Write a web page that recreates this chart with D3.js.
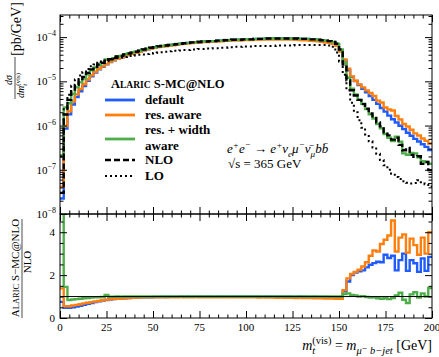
<!DOCTYPE html>
<html>
<head>
<meta charset="utf-8">
<title>m_t vis distribution</title>
<script src="https://cdnjs.cloudflare.com/ajax/libs/d3/7.8.5/d3.min.js"></script>
<style>
  body { margin: 0; background: #fff; }
  text { font-family: "Liberation Serif", "DejaVu Serif", serif; fill: #000; }
</style>
</head>
<body>
<div id="chart"></div>
<script>
    // 2 GeV bins from 0 to 200 GeV
    var binEdges = d3.range(0, 201, 2);

    // NLO and LO, in pb/GeV, one value per bin
    var nlo = [3.0e-8, 1.78e-6, 3.8e-6, 6.0e-6, 8.3e-6, 1.05e-5, 1.26e-5, 1.55e-5, 1.86e-5, 2.14e-5,
        2.40e-5, 2.63e-5, 2.88e-5, 3.16e-5, 3.39e-5, 3.63e-5, 3.80e-5, 4.07e-5, 4.27e-5, 4.47e-5,
        4.68e-5, 4.90e-5, 5.25e-5, 5.50e-5, 5.75e-5, 5.89e-5, 6.17e-5, 6.31e-5, 6.46e-5, 6.61e-5,
        6.76e-5, 6.92e-5, 7.08e-5, 7.24e-5, 7.41e-5, 7.59e-5, 7.59e-5, 7.76e-5, 7.94e-5, 7.94e-5,
        8.13e-5, 8.13e-5, 8.32e-5, 8.32e-5, 8.51e-5, 8.51e-5, 8.71e-5, 8.71e-5, 8.71e-5, 8.91e-5,
        8.91e-5, 8.91e-5, 9.12e-5, 9.12e-5, 9.12e-5, 9.33e-5, 9.33e-5, 9.33e-5, 9.33e-5, 9.33e-5,
        9.33e-5, 9.33e-5, 9.33e-5, 9.33e-5, 9.12e-5, 9.12e-5, 9.12e-5, 8.91e-5, 8.91e-5, 8.71e-5,
        8.51e-5, 8.32e-5, 8.13e-5, 7.76e-5, 7.08e-5, 5.25e-5, 2.40e-5, 1.05e-5, 6.3e-6, 4.8e-6,
        3.8e-6, 3.05e-6, 2.4e-6, 1.88e-6, 1.49e-6, 1.18e-6, 9.6e-7, 7.0e-7, 6.0e-7, 4.8e-7,
        5.3e-7, 3.66e-7, 2.77e-7, 3.13e-7, 2.17e-7, 1.96e-7, 2.02e-7, 1.36e-7, 1.5e-7, 9.8e-8];

    var lo = [2.0e-7, 2.5e-6, 5.0e-6, 7.9e-6, 1.10e-5, 1.35e-5, 1.62e-5, 1.90e-5, 2.19e-5, 2.40e-5,
        2.63e-5, 2.82e-5, 2.95e-5, 3.09e-5, 3.24e-5, 3.39e-5, 3.47e-5, 3.55e-5, 3.72e-5, 3.80e-5,
        3.89e-5, 3.98e-5, 4.07e-5, 4.17e-5, 4.27e-5, 4.37e-5, 4.47e-5, 4.57e-5, 4.68e-5, 4.79e-5,
        4.90e-5, 4.90e-5, 5.01e-5, 5.13e-5, 5.13e-5, 5.25e-5, 5.25e-5, 5.37e-5, 5.37e-5, 5.50e-5,
        5.50e-5, 5.62e-5, 5.62e-5, 5.75e-5, 5.75e-5, 5.89e-5, 5.89e-5, 6.03e-5, 6.03e-5, 6.17e-5,
        6.17e-5, 6.17e-5, 6.31e-5, 6.31e-5, 6.31e-5, 6.31e-5, 6.31e-5, 6.31e-5, 6.46e-5, 6.46e-5,
        6.46e-5, 6.46e-5, 6.46e-5, 6.61e-5, 6.61e-5, 6.61e-5, 6.61e-5, 6.61e-5, 6.61e-5, 6.61e-5,
        6.61e-5, 6.61e-5, 6.46e-5, 6.03e-5, 4.47e-5, 2.82e-5, 1.41e-5, 6.3e-6, 3.3e-6, 2.0e-6,
        1.32e-6, 8.9e-7, 6.3e-7, 4.4e-7, 3.2e-7, 2.3e-7, 1.66e-7, 1.26e-7, 1.0e-7, 8.1e-8,
        6.9e-8, 6.2e-8, 5.5e-8, 5.1e-8, 4.9e-8, 5.0e-8, 5.8e-8, 5.2e-8, 4.7e-8, 4.2e-8];

    // ALARIC S-MC@NLO / NLO
    var ratioDefault = [0.75, 0.48, 0.47, 0.50, 0.53, 0.57, 0.62, 0.66, 0.70, 0.74,
        0.78, 0.81, 0.84, 0.86, 0.88, 0.90, 0.91, 0.92, 0.93, 0.94,
        0.95, 0.96, 0.96, 0.97, 0.97, 0.98, 0.98, 0.99, 0.98, 0.99,
        0.99, 0.99, 1.00, 0.99, 1.00, 0.99, 1.00, 1.00, 0.99, 1.00,
        1.00, 0.99, 1.00, 1.00, 1.00, 0.99, 1.00, 1.00, 1.00, 1.00,
        0.99, 1.00, 1.00, 1.00, 0.99, 1.00, 1.00, 0.99, 1.00, 1.00,
        0.99, 1.00, 0.99, 0.99, 1.00, 0.99, 0.99, 0.98, 0.99, 0.98,
        0.98, 0.98, 0.97, 0.97, 0.96, 0.95, 1.25, 1.70, 2.00, 2.12,
        2.18, 2.22, 2.36, 2.48, 2.56, 2.62, 2.60, 2.95, 2.80, 2.90,
        2.22, 2.70, 3.00, 2.20, 2.70, 2.55, 2.15, 2.78, 2.20, 2.85];

    var ratioResAware = [1.38, 0.55, 0.55, 0.58, 0.61, 0.64, 0.68, 0.71, 0.74, 0.77,
        0.80, 0.83, 0.85, 0.87, 0.89, 0.90, 0.91, 0.92, 0.93, 0.94,
        0.95, 0.95, 0.96, 0.96, 0.96, 0.97, 0.97, 0.97, 0.96, 0.97,
        0.97, 0.97, 0.98, 0.97, 0.97, 0.97, 0.98, 0.97, 0.97, 0.97,
        0.97, 0.97, 0.96, 0.97, 0.97, 0.97, 0.96, 0.97, 0.96, 0.96,
        0.96, 0.96, 0.96, 0.95, 0.96, 0.95, 0.95, 0.95, 0.94, 0.95,
        0.94, 0.94, 0.94, 0.93, 0.94, 0.93, 0.93, 0.93, 0.92, 0.92,
        0.92, 0.91, 0.91, 0.91, 0.90, 0.90, 1.30, 1.85, 2.05, 2.15,
        2.25, 2.40, 2.60, 2.90, 3.15, 3.10, 3.45, 3.65, 3.85, 4.55,
        3.10, 3.75, 3.90, 3.05, 3.70, 3.40, 2.95, 3.75, 3.00, 4.00];

    var ratioWidthAware = [7.0, 1.45, 0.84, 0.86, 0.88, 0.90, 0.92, 0.93, 0.95, 0.96,
        0.97, 0.98, 1.08, 0.99, 0.99, 1.00, 0.99, 1.00, 1.00, 1.01,
        1.00, 1.00, 1.01, 1.00, 1.00, 1.00, 1.01, 1.00, 1.00, 1.00,
        1.00, 1.01, 1.00, 1.00, 1.00, 1.00, 1.00, 1.01, 1.00, 1.00,
        1.00, 1.00, 1.00, 1.00, 1.01, 1.00, 1.00, 1.00, 1.00, 1.00,
        1.01, 1.00, 1.00, 1.00, 1.00, 1.00, 1.00, 1.01, 1.00, 1.00,
        1.00, 1.00, 1.00, 1.00, 1.00, 1.01, 1.00, 1.00, 1.00, 1.00,
        1.00, 1.00, 1.00, 1.00, 1.00, 1.00, 1.12, 1.15, 1.08, 1.05,
        1.00, 1.02, 0.98, 0.95, 0.97, 0.92, 0.90, 0.92, 0.88, 0.93,
        1.05, 1.18, 0.85, 0.70, 1.10, 1.20, 0.95, 1.15, 1.00, 1.40];

    var xTicks = [0, 25, 50, 75, 100, 125, 150, 175, 200];
    var decades = [1e-8, 1e-7, 1e-6, 1e-5, 1e-4];
    var ratioTicks = [0, 2, 4];

    var width = 439, height = 357;
    // panel edges ("top" is taken by window, so short names)
    var pL = 60, pR = 432, pT = 15, pM = 214, pB = 318;

    var svg = d3.select("#chart").append("svg")
        .attr("width", width)
        .attr("height", height);

    var x = d3.scaleLinear().domain([0, 200]).range([pL, pR]);
    var yTop = d3.scaleLog().domain([1e-8, Math.pow(10, -3.5)]).range([pM, pT]);
    var yRat = d3.scaleLinear().domain([0, 4.85]).range([pB, pM]);

    var series = [
        {name: "default", color: "#1f5bff", ratio: ratioDefault},
        {name: "res. aware", color: "#ff7f0e", ratio: ratioResAware},
        {name: "res. + width aware", color: "#4dae4a", ratio: ratioWidthAware}
    ];
    series.forEach(function (s) {
        s.values = nlo.map(function (v, i) { return v * s.ratio[i]; });
    });

    function steps(vals) {
        var pts = vals.map(function (v, i) { return [binEdges[i], v]; });
        pts.push([binEdges[vals.length], vals[vals.length - 1]]);
        return pts;
    }

    var defs = svg.append("defs");
    defs.append("clipPath").attr("id", "clipTop").append("rect")
        .attr("x", pL).attr("y", pT).attr("width", pR - pL).attr("height", pM - pT);
    defs.append("clipPath").attr("id", "clipRat").append("rect")
        .attr("x", pL).attr("y", pM).attr("width", pR - pL).attr("height", pB - pM);

    var lineTop = d3.line().x(function (d) { return x(d[0]); })
        .y(function (d) { return yTop(d[1]); }).curve(d3.curveStepAfter);
    var lineRat = d3.line().x(function (d) { return x(d[0]); })
        .y(function (d) { return yRat(d[1]); }).curve(d3.curveStepAfter);

    // upper panel
    var gTop = svg.append("g").attr("clip-path", "url(#clipTop)");
    series.forEach(function (s) {
        gTop.append("path").attr("d", lineTop(steps(s.values)))
            .attr("fill", "none").attr("stroke", s.color).attr("stroke-width", 2.4);
    });
    gTop.append("path").attr("d", lineTop(steps(nlo)))
        .attr("fill", "none").attr("stroke", "#000").attr("stroke-width", 2.4)
        .attr("stroke-dasharray", "6,3");
    gTop.append("path").attr("d", lineTop(steps(lo)))
        .attr("fill", "none").attr("stroke", "#000").attr("stroke-width", 2)
        .attr("stroke-dasharray", "2,3");

    // ratio panel
    var gRat = svg.append("g").attr("clip-path", "url(#clipRat)");
    series.forEach(function (s) {
        gRat.append("path").attr("d", lineRat(steps(s.ratio)))
            .attr("fill", "none").attr("stroke", s.color).attr("stroke-width", 2.4);
    });
    gRat.append("line").attr("x1", pL).attr("x2", pR)
        .attr("y1", yRat(1)).attr("y2", yRat(1)).attr("stroke", "#000").attr("stroke-width", 1);

    // frames
    [[pT, pM], [pM, pB]].forEach(function (p) {
        svg.append("rect").attr("x", pL).attr("y", p[0])
            .attr("width", pR - pL).attr("height", p[1] - p[0])
            .attr("fill", "none").attr("stroke", "#000").attr("stroke-width", 1);
    });

    // ticks, all pointing inward
    var xMinor = d3.range(0, 201, 5).filter(function (v) { return v % 25 !== 0; });
    function xAxisTicks(y, dir) {
        [[xTicks, 7], [xMinor, 3.5]].forEach(function (t) {
            var ax = (dir > 0 ? d3.axisTop(x) : d3.axisBottom(x))
                .tickValues(t[0]).tickSize(-t[1]).tickSizeOuter(0).tickFormat("");
            var g = svg.append("g").attr("transform", "translate(0," + y + ")").call(ax);
            g.select(".domain").remove();
        });
    }
    xAxisTicks(pT, 1);
    xAxisTicks(pM, -1);
    xAxisTicks(pM, 1);
    xAxisTicks(pB, -1);

    var yMinor = [];
    decades.forEach(function (d) {
        for (var k = 2; k <= 9; k++) {
            if (d * k < Math.pow(10, -3.5)) yMinor.push(d * k);
        }
    });
    [[pL, d3.axisLeft], [pR, d3.axisRight]].forEach(function (side) {
        [[decades, 7], [yMinor, 3.5]].forEach(function (t) {
            var g = svg.append("g").attr("transform", "translate(" + side[0] + ",0)")
                .call(side[1](yTop).tickValues(t[0]).tickSize(-t[1]).tickSizeOuter(0).tickFormat(""));
            g.select(".domain").remove();
        });
        [[ratioTicks, 7], [[0.5, 1, 1.5, 2.5, 3, 3.5, 4.5], 3.5]].forEach(function (t) {
            var g = svg.append("g").attr("transform", "translate(" + side[0] + ",0)")
                .call(side[1](yRat).tickValues(t[0]).tickSize(-t[1]).tickSizeOuter(0).tickFormat(""));
            g.select(".domain").remove();
        });
    });

    // tick labels
    svg.selectAll(".xlab").data(xTicks).enter().append("text")
        .attr("x", function (d) { return x(d); }).attr("y", 331)
        .attr("text-anchor", "middle").attr("font-size", 11).text(function (d) { return d; });
    svg.selectAll(".rlab").data(ratioTicks).enter().append("text")
        .attr("x", 55).attr("y", function (d) { return yRat(d) + 4; })
        .attr("text-anchor", "end").attr("font-size", 11).text(function (d) { return d; });
    svg.selectAll(".ylab").data(decades).enter().append("text")
        .attr("x", 56).attr("y", function (d) { return yTop(d) + 4; })
        .attr("text-anchor", "end").attr("font-size", 11)
        .each(function (d) {
            var t = d3.select(this);
            t.append("tspan").text("10");
            t.append("tspan").attr("dy", -5).attr("font-size", 8)
                .text("\u2212" + Math.round(-Math.log10(d)));
        });

    // rich text helper: parts = [text, 1 sup / -1 sub / 0, style, dx]
    function rich(sel, parts, size, small) {
        var cur = 0;
        small = small || 0.7;
        parts.forEach(function (p) {
            var shift = p[1] === 1 ? -0.4 * size : (p[1] === -1 ? 0.28 * size : 0);
            var ts = sel.append("tspan").attr("dy", shift - cur).text(p[0]);
            if (p[1]) ts.attr("font-size", size * small);
            if (p[2]) ts.attr("font-style", p[2]);
            if (p[3]) ts.attr("dx", p[3]);
            cur = shift;
        });
    }

    // y label, upper panel
    var yl = svg.append("g").attr("transform", "rotate(-90)");
    yl.append("text").attr("x", -29).attr("y", 21).attr("text-anchor", "middle")
        .attr("font-size", 14).text("[pb/GeV]");
    yl.append("text").attr("x", -80).attr("y", 12).attr("text-anchor", "middle")
        .attr("font-size", 10).attr("font-style", "italic").text("d\u03c3");
    yl.append("line").attr("x1", -99).attr("x2", -57).attr("y1", 15).attr("y2", 15)
        .attr("stroke", "#000").attr("stroke-width", 0.7);
    rich(yl.append("text").attr("x", -98).attr("y", 24).attr("font-size", 10),
        [["dm", 0, "italic"], ["t", -1, "italic"], ["(vis)", 1, null, -2]], 10);

    // y label, ratio panel
    var rl = svg.append("g").attr("transform", "rotate(-90)");
    var rn = rl.append("text").attr("x", -268).attr("y", 19).attr("text-anchor", "middle")
        .attr("font-size", 11);
    rn.append("tspan").text("A");
    rn.append("tspan").attr("font-size", 8.5).text("LARIC");
    rn.append("tspan").text(" S\u2212MC@NLO");
    rl.append("line").attr("x1", -318).attr("x2", -219).attr("y1", 22).attr("y2", 22)
        .attr("stroke", "#000").attr("stroke-width", 0.7);
    rl.append("text").attr("x", -262).attr("y", 31).attr("text-anchor", "middle")
        .attr("font-size", 11).text("NLO");

    // x label
    rich(svg.append("text").attr("x", pR).attr("y", 350).attr("text-anchor", "end")
            .attr("font-size", 14),
        [["m", 0, "italic"], ["t", -1, "italic"], ["(vis)", 1, null, -3],
         [" = ", 0], ["m", 0, "italic"], ["\u03bc\u207b b\u2212jet", -1, "italic"], [" [GeV]", 0]], 14, 0.75);

    // legend
    var lg = svg.append("g").attr("font-weight", "bold");
    var lt = lg.append("text").attr("x", 111).attr("y", 88).attr("font-size", 12.5);
    lt.append("tspan").text("A");
    lt.append("tspan").attr("font-size", 9.5).text("LARIC");
    lt.append("tspan").text(" S-MC@NLO");
    var legendRows = [
        {y: 100, color: series[0].color, dash: null, w: 2.8, labels: ["default"]},
        {y: 115, color: series[1].color, dash: null, w: 2.8, labels: ["res. aware"]},
        {y: 139, color: series[2].color, dash: null, w: 2.8, labels: ["res. + width", "aware"]},
        {y: 160, color: "#000", dash: "6,3", w: 2.6, labels: ["NLO"]},
        {y: 176, color: "#000", dash: "2,3", w: 2, labels: ["LO"]}
    ];
    legendRows.forEach(function (r) {
        lg.append("line").attr("x1", 105).attr("x2", 135).attr("y1", r.y).attr("y2", r.y)
            .attr("stroke", r.color).attr("stroke-width", r.w)
            .attr("stroke-dasharray", r.dash);
        if (r.labels.length === 1) {
            lg.append("text").attr("x", 145).attr("y", r.y + 4).attr("font-size", 13).text(r.labels[0]);
        } else {
            lg.append("text").attr("x", 145).attr("y", r.y - 5).attr("font-size", 13).text(r.labels[0]);
            lg.append("text").attr("x", 145).attr("y", r.y + 11).attr("font-size", 13).text(r.labels[1]);
        }
    });

    // process annotation
    rich(svg.append("text").attr("x", 227).attr("y", 153).attr("font-size", 13).attr("font-style", "italic"),
        [["e", 0], ["+", 1], ["e", 0], ["\u2212", 1], [" \u2192 e", 0], ["+", 1], ["\u03bd", 0], ["e", -1],
         ["\u03bc", 0], ["\u2212", 1], ["\u03bd\u0304", 0], ["\u03bc", -1], ["bb\u0304", 0]], 13);
    svg.append("text").attr("x", 228).attr("y", 168).attr("font-size", 13)
        .text("\u221As = 365 GeV");
</script>
</body>
</html>
